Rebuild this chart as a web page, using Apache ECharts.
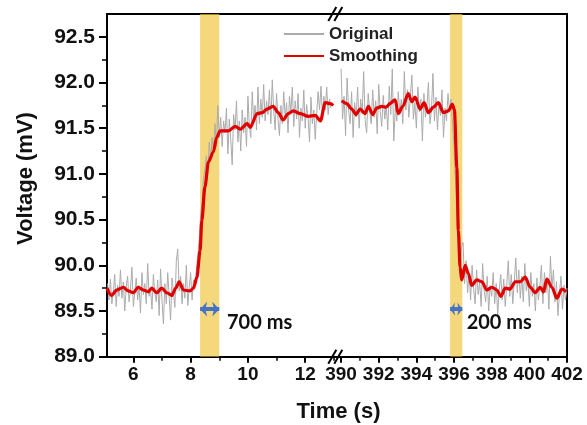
<!DOCTYPE html>
<html>
<head>
<meta charset="utf-8">
<script src="https://cdn.jsdelivr.net/npm/echarts@6/dist/echarts.min.js"></script>
<style>
  html, body { margin: 0; padding: 0; background: #fff; }
  #chart { width: 587px; height: 425px; }
</style>
</head>
<body>
<div id="chart"></div>
<script>
// tick labels
const yTicks = [89.0, 89.5, 90.0, 90.5, 91.0, 91.5, 92.0, 92.5]
const yMinorTicks = [89.25, 89.75, 90.25, 90.75, 91.25, 91.75, 92.25]
const xTicksLeft = [6, 8, 10, 12]
const xMinorLeft = [7, 9, 11, 13]
const xTicksRight = [390, 392, 394, 396, 398, 400, 402]
const xMinorRight = [391, 393, 395, 397, 399, 401]

// raw signal, sampled every 0.05 s (left) and 0.08 s (right)
const origLeftStart = 5.10
const origLeftStep = 0.05
const origLeft = [
  89.80, 89.62, 89.85, 89.58, 89.70, 89.90, 89.55, 89.78, 89.66, 89.95,
  89.64, 89.82, 89.50, 89.76, 89.88, 89.60, 89.74, 89.98, 89.55, 89.70,
  89.86, 89.62, 89.78, 89.48, 89.92, 89.68, 89.80, 89.58, 90.02, 89.66,
  89.74, 89.52, 89.90, 89.70, 89.60, 89.84, 89.45, 89.96, 89.62, 89.36,
  89.80, 89.58, 89.92, 89.66, 89.40, 89.86, 89.70, 89.54, 90.05, 90.18,
  89.72, 89.88, 89.58, 89.80, 89.64, 90.00, 89.56, 89.76, 89.92, 89.62,
  89.84, 89.78, 89.95, 90.10, 90.30, 90.55, 90.70, 90.95, 91.05, 91.20,
  91.00, 91.35, 91.15, 91.40, 91.25, 91.55, 91.30, 91.75, 91.40, 91.62,
  91.30, 91.58, 91.45, 91.72, 91.22, 91.60, 91.38, 91.10, 91.65, 91.48,
  91.80, 91.35, 91.58, 91.25, 91.70, 91.45, 91.62, 91.30, 91.85, 91.52,
  91.40, 91.90, 91.60, 91.75, 91.48, 91.95, 91.55, 91.82, 91.62, 91.98,
  91.58, 91.80, 91.65, 91.92, 91.55, 92.03, 91.70, 91.48, 91.88, 91.60,
  91.42, 91.75, 91.55, 91.90, 91.62, 91.78, 91.45, 91.85, 91.68, 91.95,
  91.52, 91.80, 91.60, 91.88, 91.40, 91.72, 91.58, 91.92, 91.50, 91.76,
  91.62, 91.35, 91.84, 91.55, 91.70, 91.38, 91.66, 91.90, 91.70, 91.96,
  91.62, 91.85, 91.70, 91.95, 91.65, 91.82, 91.72
]
const origRightStart = 390.0
const origRightStep = 0.08
const origRight = [
  92.15, 91.60, 91.85, 91.42, 92.05, 91.70, 91.55, 91.90, 91.40, 91.78,
  91.62, 91.95, 91.50, 91.82, 91.66, 92.12, 91.58, 91.45, 91.88, 91.70,
  91.55, 91.92, 91.62, 91.80, 91.44, 91.98, 91.68, 91.52, 91.86, 91.60,
  91.75, 91.48, 91.96, 91.65, 92.15, 91.36, 91.72, 91.58, 91.90, 91.66,
  91.82, 91.55, 92.12, 91.70, 91.92, 91.62, 91.85, 92.08, 91.60, 91.78,
  91.50, 91.95, 91.68, 91.82, 91.36, 91.88, 91.62, 91.74, 92.00, 91.55,
  91.70, 92.10, 91.58, 91.84, 91.48, 91.78, 91.64, 91.92, 91.40, 91.72,
  91.58, 91.88, 91.70, 91.82, 91.55, 91.30, 90.90, 90.50, 90.10, 89.95,
  90.20, 90.25, 89.80, 90.05, 89.70, 89.92, 89.62, 90.00, 89.75, 89.58,
  89.95, 89.68, 89.82, 89.55, 90.02, 89.72, 89.60, 89.88, 89.50, 89.78,
  89.66, 89.92, 89.58, 89.80, 89.45, 89.74, 89.90, 89.62, 89.85, 89.55,
  89.78, 90.05, 89.66, 89.90, 89.58, 89.82, 90.08, 89.70, 89.95, 89.64,
  89.88, 89.60, 90.02, 89.72, 89.84, 89.55, 89.92, 89.66, 89.80, 89.50,
  89.86, 89.62, 89.78, 90.00, 89.58, 89.92, 89.70, 89.85, 89.52, 90.10,
  89.74, 89.95, 89.60, 89.82, 89.45, 89.70, 89.88, 89.52, 89.78, 89.62,
  89.75
]

// smoothed signal
const smoothLeftTime = [5.08, 5.24, 5.42, 5.65, 5.82, 6.0, 6.17, 6.35, 6.52, 6.64, 6.82, 6.99, 7.17, 7.34, 7.48, 7.6, 7.75, 7.98, 8.1, 8.22, 8.33, 8.39, 8.5, 8.62, 8.79, 8.91, 9.03, 9.31, 9.56, 9.73, 9.98, 10.08, 10.32, 10.5, 10.67, 10.88, 11.06, 11.23, 11.41, 11.58, 11.83, 12.11, 12.35, 12.53, 12.7, 12.87, 12.98]
const smoothLeft = [89.75, 89.67, 89.73, 89.76, 89.72, 89.70, 89.76, 89.73, 89.71, 89.75, 89.70, 89.75, 89.70, 89.67, 89.75, 89.82, 89.73, 89.72, 89.75, 89.87, 90.16, 90.49, 90.86, 91.13, 91.24, 91.40, 91.47, 91.47, 91.52, 91.49, 91.55, 91.51, 91.66, 91.67, 91.71, 91.74, 91.67, 91.59, 91.66, 91.69, 91.66, 91.63, 91.64, 91.58, 91.78, 91.77, 91.75]
const smoothRightTime = [390.03, 390.3, 390.57, 390.79, 391.01, 391.27, 391.45, 391.68, 391.89, 392.16, 392.39, 392.6, 392.87, 393.04, 393.28, 393.57, 393.76, 393.93, 394.2, 394.41, 394.64, 394.9, 395.17, 395.44, 395.7, 395.91, 396.02, 396.15, 396.23, 396.32, 396.41, 396.59, 396.76, 396.94, 397.21, 397.48, 397.74, 398.01, 398.27, 398.49, 398.72, 398.98, 399.25, 399.51, 399.78, 400.05, 400.31, 400.58, 400.75, 400.93, 401.2, 401.46, 401.73, 401.96]
const smoothRight = [91.80, 91.77, 91.71, 91.65, 91.71, 91.66, 91.74, 91.65, 91.72, 91.74, 91.73, 91.77, 91.81, 91.66, 91.74, 91.88, 91.79, 91.84, 91.71, 91.78, 91.67, 91.73, 91.78, 91.67, 91.69, 91.76, 91.70, 91.07, 90.38, 89.98, 89.84, 90.00, 89.91, 89.78, 89.84, 89.82, 89.73, 89.76, 89.73, 89.66, 89.75, 89.74, 89.82, 89.82, 89.87, 89.76, 89.70, 89.76, 89.71, 89.85, 89.76, 89.64, 89.74, 89.71]

// response windows
const riseWindow = [8.33, 9.0]
const fallWindow = [395.79, 396.44]
const arrowLevel = 89.52
const riseLabel = '700 ms'
const fallLabel = '200 ms'
const riseLabelAt = [9.27, 89.37]
const fallLabelAt = [396.67, 89.37]

const font = 'Liberation Sans, Arial, sans-serif'
const gridTop = 14, gridH = 342.7
const leftX = 107, breakX = 337.3, rightX = 567

const sampled = (start, step, vals) => vals.map((v, i) => [+(start + i * step).toFixed(3), v])
const zip = (ts, vs) => ts.map((t, i) => [t, vs[i]])

const chart = echarts.init(document.getElementById('chart'))

const bottomAxis = (grid, min, max, ticks, minor) => [
  {
    type: 'value', gridIndex: grid, min, max, position: 'bottom',
    axisLine: { onZero: false, lineStyle: { color: '#000', width: 2 } },
    axisTick: { customValues: ticks, length: 6, lineStyle: { color: '#000', width: 2 } },
    axisLabel: { customValues: ticks, margin: 9, fontSize: 19, fontWeight: 'bold', color: '#111', fontFamily: font },
    splitLine: { show: false }
  },
  {
    type: 'value', gridIndex: grid, min, max, position: 'bottom',
    axisLine: { show: false },
    axisTick: { customValues: minor, length: 4, lineStyle: { color: '#000', width: 1.5 } },
    axisLabel: { show: false },
    splitLine: { show: false }
  },
  {
    type: 'value', gridIndex: grid, min, max, position: 'top',
    axisLine: { onZero: false, lineStyle: { color: '#000', width: 2 } },
    axisTick: { show: false }, axisLabel: { show: false }, splitLine: { show: false }
  }
]

const bandSeries = (xi, yi, win) => ({
  type: 'line', xAxisIndex: xi, yAxisIndex: yi, data: [], z: 5, silent: true,
  markArea: { silent: true, itemStyle: { color: 'rgba(240,198,62,0.68)' }, data: [[{ xAxis: win[0] }, { xAxis: win[1] }]] }
})

const arrowSeries = (xi, yi, win, text, at, head) => ({
  type: 'line', xAxisIndex: xi, yAxisIndex: yi, data: [], z: 6, silent: true,
  markLine: {
    silent: true, symbol: ['arrow', 'arrow'], symbolSize: head,
    lineStyle: { color: '#4472c4', width: 4, type: 'solid' },
    label: { show: false },
    data: [[{ coord: [win[0], arrowLevel] }, { coord: [win[1], arrowLevel] }]]
  },
  markPoint: {
    silent: true, symbol: 'circle', symbolSize: 0,
    label: { show: true, position: 'right', distance: 0, formatter: '{b}', fontFamily: 'Lato', fontWeight: 'bold', fontSize: 20, color: '#111' },
    data: [{ name: text, coord: at }]
  }
})

const slash = (x1, y1, x2, y2) => ({ type: 'line', shape: { x1, y1, x2, y2 }, style: { stroke: '#000', lineWidth: 2 }, z: 100 })
const breakMarks = []
;[gridTop, gridTop + gridH].forEach(by => {
  breakMarks.push(slash(breakX - 9, by + 7, breakX - 1, by - 7))
  breakMarks.push(slash(breakX - 3, by + 7, breakX + 5, by - 7))
})

chart.setOption({
  animation: false,
  grid: [
    { left: leftX, top: gridTop, width: breakX - leftX, height: gridH },
    { left: breakX, top: gridTop, width: rightX - breakX, height: gridH }
  ],
  legend: {
    data: ['Original', 'Smoothing'], orient: 'vertical', left: 283, top: 24, padding: 0,
    itemWidth: 40, itemHeight: 14, itemGap: 2, selectedMode: false,
    itemStyle: { opacity: 0 },
    textStyle: { fontSize: 17, fontWeight: 'bold', fontFamily: font, color: '#222', lineHeight: 20 }
  },
  xAxis: [
    ...bottomAxis(0, 5.08, 13.12, xTicksLeft, xMinorLeft),
    ...bottomAxis(1, 389.8, 402, xTicksRight, xMinorRight)
  ],
  yAxis: [
    {
      type: 'value', gridIndex: 0, min: 89, max: 92.75, position: 'left',
      axisLine: { show: true, onZero: false, lineStyle: { color: '#000', width: 2 } },
      axisTick: { customValues: yTicks, length: 8, lineStyle: { color: '#000', width: 2 } },
      axisLabel: { customValues: yTicks, formatter: v => v.toFixed(1), margin: 12, fontSize: 21, fontWeight: 'bold', color: '#111', fontFamily: font },
      splitLine: { show: false }
    },
    {
      type: 'value', gridIndex: 0, min: 89, max: 92.75, position: 'left',
      axisLine: { show: false },
      axisTick: { customValues: yMinorTicks, length: 5, lineStyle: { color: '#000', width: 1.5 } },
      axisLabel: { show: false }, splitLine: { show: false }
    },
    {
      type: 'value', gridIndex: 1, min: 89, max: 92.75, position: 'right',
      axisLine: { show: true, onZero: false, lineStyle: { color: '#000', width: 2 } },
      axisTick: { show: false }, axisLabel: { show: false }, splitLine: { show: false }
    }
  ],
  series: [
    { name: 'Original', type: 'line', xAxisIndex: 0, yAxisIndex: 0, symbol: 'none', z: 2,
      data: sampled(origLeftStart, origLeftStep, origLeft),
      lineStyle: { color: '#ababab', width: 1 }, itemStyle: { color: '#ababab' } },
    { name: 'Smoothing', type: 'line', xAxisIndex: 0, yAxisIndex: 0, symbol: 'none', z: 3,
      smooth: 0.3, smoothMonotone: 'x',
      data: zip(smoothLeftTime, smoothLeft),
      lineStyle: { color: '#e00000', width: 3.2 }, itemStyle: { color: '#e00000' } },
    { name: 'Original', type: 'line', xAxisIndex: 3, yAxisIndex: 2, symbol: 'none', z: 2,
      data: sampled(origRightStart, origRightStep, origRight),
      lineStyle: { color: '#ababab', width: 1 }, itemStyle: { color: '#ababab' } },
    { name: 'Smoothing', type: 'line', xAxisIndex: 3, yAxisIndex: 2, symbol: 'none', z: 3,
      smooth: 0.3, smoothMonotone: 'x',
      data: zip(smoothRightTime, smoothRight),
      lineStyle: { color: '#e00000', width: 3.2 }, itemStyle: { color: '#e00000' } },
    bandSeries(0, 0, riseWindow),
    bandSeries(3, 2, fallWindow),
    arrowSeries(0, 0, riseWindow, riseLabel, riseLabelAt, [11, 7]),
    arrowSeries(3, 2, fallWindow, fallLabel, fallLabelAt, [10, 5])
  ],
  graphic: [
    { type: 'text', x: 26, y: 178.5, rotation: Math.PI / 2, z: 100,
      style: { text: 'Voltage (mV)', fontSize: 22, fontWeight: 'bold', fontFamily: font, fill: '#111', align: 'center', verticalAlign: 'middle' } },
    { type: 'text', x: 338.5, y: 411.5, z: 100,
      style: { text: 'Time (s)', fontSize: 22, fontWeight: 'bold', fontFamily: font, fill: '#111', align: 'center', verticalAlign: 'middle' } },
    ...breakMarks
  ]
})

window.addEventListener('resize', () => chart.resize())
</script>
</body>
</html>
